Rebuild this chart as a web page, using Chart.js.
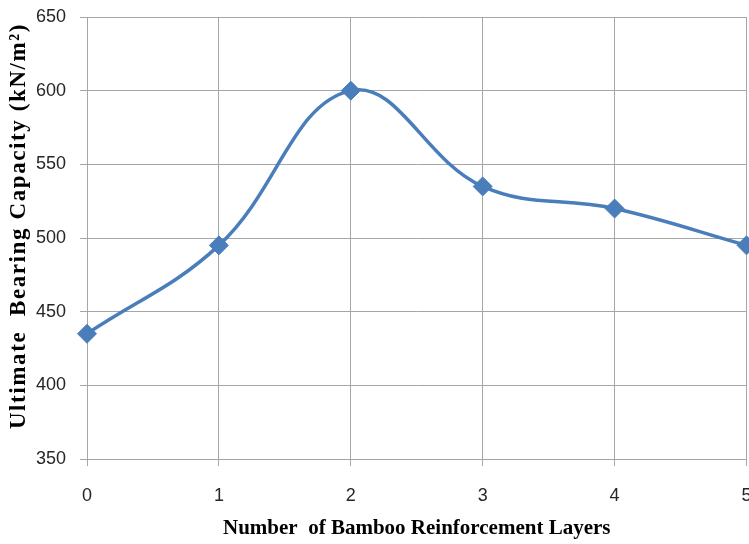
<!DOCTYPE html>
<html>
<head>
<meta charset="utf-8">
<script src="https://cdn.jsdelivr.net/npm/chart.js@4/dist/chart.umd.min.js"></script>
<style>
html,body{margin:0;padding:0;background:#fff;overflow:hidden;}
#wrap{width:749px;height:544px;overflow:hidden;position:relative;}
#c{position:absolute;left:0;top:0;}
</style>
</head>
<body>
<div id="wrap"><canvas id="c" width="757" height="544"></canvas></div>
<script>
const layers = [0, 1, 2, 3, 4, 5];
const capacity = [435, 495, 600, 535, 520, 495];
const yTicks = [350, 400, 450, 500, 550, 600, 650];

const gridColor = '#a6a6a6';
const tickFont = {family: "'Liberation Sans', Arial, sans-serif", size: 18};
const xTitleFont = {family: "'Liberation Serif', 'Times New Roman', serif", size: 21, weight: 'bold'};
const yTitleFont = {family: "'Liberation Serif', 'Times New Roman', serif", size: 23, weight: 'bold'};

const chart = new Chart(document.getElementById('c'), {
  type: 'line',
  data: {
    datasets: [{
      data: layers.map((x, i) => ({x: x, y: capacity[i]})),
      borderColor: '#4a7ebb',
      backgroundColor: '#4a7ebb',
      borderWidth: 3.5,
      tension: 0.4,
      pointStyle: 'rectRot',
      pointRadius: 9.5,
      pointHoverRadius: 9.5,
      pointBorderWidth: 1,
      pointBackgroundColor: '#4a7ebb',
      pointBorderColor: '#4a7ebb',
      clip: false,
      fill: false
    }]
  },
  options: {
    responsive: false,
    animation: false,
    devicePixelRatio: 1,
    layout: {padding: {top: 17, right: 2, left: 0, bottom: 0}},
    plugins: {legend: {display: false}, tooltip: {enabled: false}},
    scales: {
      x: {
        type: 'linear',
        min: 0, max: 5,
        afterBuildTicks: s => { s.ticks = layers.map(v => ({value: v})); },
        afterFit: s => { s.height = 85; s.paddingRight = 0; s.paddingLeft = 0; },
        grid: {color: gridColor, lineWidth: 1, tickLength: 7, drawTicks: true},
        border: {color: gridColor, width: 1},
        ticks: {font: tickFont, color: '#262626', padding: 19, maxRotation: 0, autoSkip: false},
        title: {display: true, text: 'Number  of Bamboo Reinforcement Layers', font: xTitleFont, color: '#000', padding: {top: 0, bottom: 3}}
      },
      y: {
        type: 'linear',
        min: 350, max: 650,
        afterBuildTicks: s => { s.ticks = yTicks.map(v => ({value: v})); },
        afterFit: s => { s.width = 87; s.paddingTop = 0; s.paddingBottom = 0; },
        grid: {color: gridColor, lineWidth: 1, tickLength: 7},
        border: {color: gridColor, width: 1},
        ticks: {font: tickFont, color: '#262626', padding: 14, autoSkip: false},
        title: {display: true, text: 'Ultimate  Bearing Capacity (kN/m²)', font: yTitleFont, color: '#000', padding: {top: 5, bottom: 0}}
      }
    }
  }
});

// vertical axis title: slightly wider letter spacing and a little higher, as in the reference
const ys = chart.scales.y;
const origDrawTitle = ys.drawTitle.bind(ys);
ys.drawTitle = function () {
  const ctx = this.ctx;
  ctx.save();
  ctx.translate(0, -12);
  ctx.letterSpacing = '1.6px';
  origDrawTitle();
  ctx.restore();
};
chart.draw();
</script>
</body>
</html>
